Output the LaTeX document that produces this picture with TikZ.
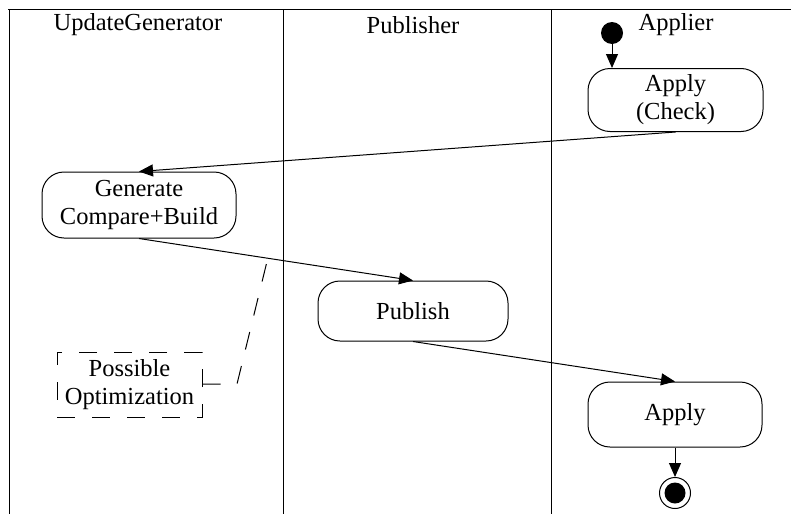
\documentclass[tikz,border=0pt]{standalone}
\usepackage{fontspec}
\setmainfont{Liberation Serif}
\usetikzlibrary{arrows.meta}
\begin{document}
\begin{tikzpicture}[x=1pt,y=-1pt,
  every node/.style={font=\fontsize{24.5}{28}\selectfont},
  act/.style={draw, rounded corners=22pt, align=center, inner sep=0pt, line width=1pt},
  flow/.style={-{Triangle[length=14pt,width=12pt]}, line width=1pt},
  lane/.style={line width=1pt},
  notedash/.style={line width=1pt, dash pattern=on 18pt off 17pt},
  ]
\useasboundingbox (0,0) rectangle (791,514);
% swimlanes
\coordinate (tl) at (8,9); \coordinate (tr) at (791,9);
\coordinate (l1t) at (9,9); \coordinate (l1b) at (9,514);
\coordinate (l2t) at (283,9); \coordinate (l2b) at (283,514);
\coordinate (l3t) at (551,9); \coordinate (l3b) at (551,514);
\draw[lane] (tl) -- (tr);
\draw[lane] (l1t) -- (l1b);
\draw[lane] (l2t) -- (l2b);
\draw[lane] (l3t) -- (l3b);
\node (lab1) at (138,25) {UpdateGenerator};
\node (lab2) at (413,25) {Publisher};
\node (lab3) at (676,25) {Applier};
% nodes
\node[circle, fill, inner sep=0pt, minimum size=22pt] (start) at (612,33) {};
\node[act, minimum width=175pt, minimum height=63pt] (apply1) at (675.5,100) {Apply\\(Check)};
\node[act, minimum width=194pt, minimum height=66pt] (gen) at (139,205) {Generate\\Compare+Build};
\node[act, minimum width=190pt, minimum height=60pt] (pub) at (413,311) {Publish};
\node[act, minimum width=174pt, minimum height=65pt] (apply2) at (675,414.5) {Apply};
\node[circle, draw, line width=1pt, inner sep=0pt, minimum size=31pt] (end) at (675,493) {};
\node[circle, fill, inner sep=0pt, minimum size=21pt] (endin) at (end.center) {};
\node[draw, notedash, align=center, inner sep=0pt, minimum width=145pt, minimum height=65pt] (note) at (129.5,384.5) {Possible\\Optimization};
% connectors
\draw[flow] (start) -- (start |- apply1.north);
\draw[flow] (apply1.south) -- (gen.north);
\draw[flow] (gen.south) -- coordinate[pos=0.47] (noteat) (pub.north);
\draw[flow] (pub.south) -- (apply2.north);
\draw[flow] (apply2.south) -- (end.north);
\coordinate (bend) at (237,384);
\draw[notedash] (note.east |- bend) -- (bend) -- (noteat);
\end{tikzpicture}
\end{document}
